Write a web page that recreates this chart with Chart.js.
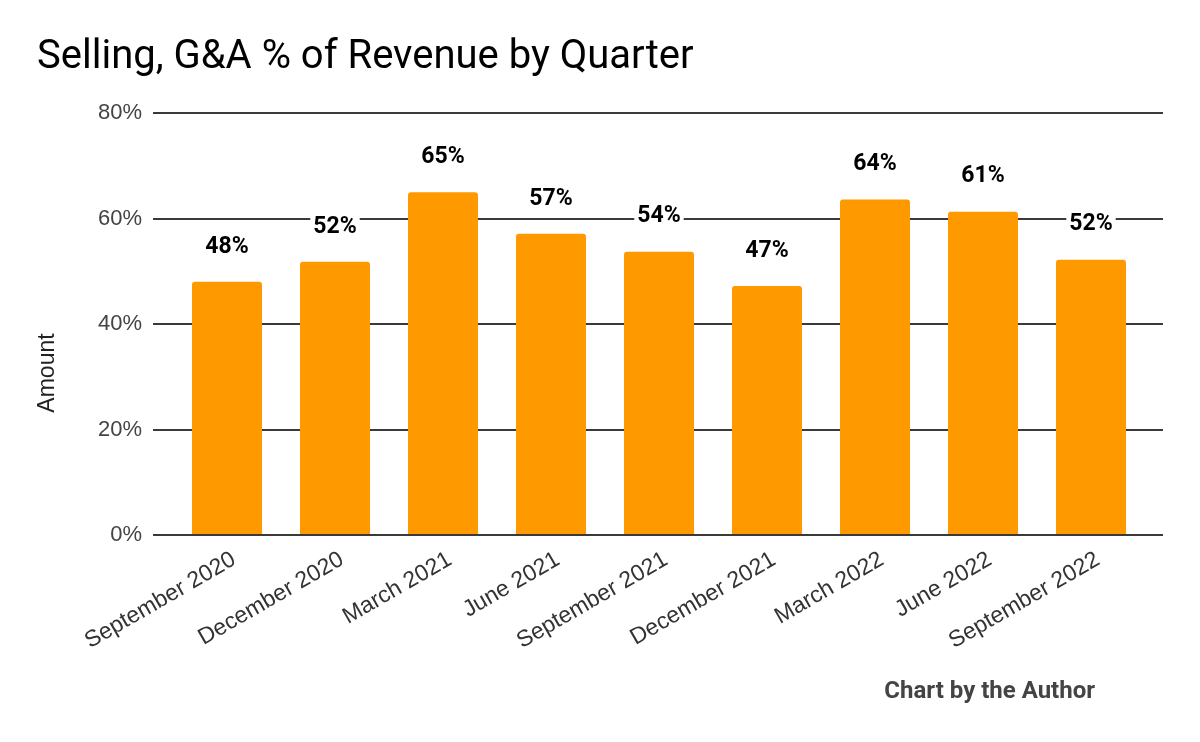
<!DOCTYPE html>
<html>
<head>
<meta charset="utf-8">
<style>
  html, body { margin: 0; padding: 0; background: #fff; }
  #wrap { width: 1200px; height: 742px; }
</style>
<script src="https://cdn.jsdelivr.net/npm/chart.js@4.4.0/dist/chart.umd.min.js"></script>
</head>
<body>
<div id="wrap"><canvas id="sga-chart" width="1200" height="742"></canvas></div>
<script>
// Selling, G&A as % of revenue, per quarter
const quarters = ['September 2020', 'December 2020', 'March 2021', 'June 2021', 'September 2021',
                  'December 2021', 'March 2022', 'June 2022', 'September 2022'];
const sgaPct = [48, 51.8, 65, 57.1, 53.7, 47.2, 63.6, 61.3, 52.2];
const yTicks = [0, 20, 40, 60, 80];

const barColor = '#ff9900';
const gridColor = '#3a3a3a';

// value labels above each bar, white box behind so the gridline is cut
const valueLabels = {
    id: 'valueLabels',
    afterDatasetsDraw(chart) {
        const ctx = chart.ctx;
        const meta = chart.getDatasetMeta(0);
        ctx.save();
        ctx.font = 'bold 23px Roboto';
        ctx.textAlign = 'center';
        ctx.textBaseline = 'middle';
        meta.data.forEach((bar, i) => {
            const txt = Math.round(sgaPct[i]) + '%';
            const y = bar.y - 36;
            const w = ctx.measureText(txt).width;
            ctx.fillStyle = '#fff';
            ctx.fillRect(bar.x - w / 2 - 3, y - 12, w + 6, 24);
            ctx.fillStyle = '#000';
            ctx.fillText(txt, bar.x, y + 1);
        });
        ctx.restore();
    }
};

// y axis caption and source note
const extraText = {
    id: 'extraText',
    afterDraw(chart) {
        const ctx = chart.ctx;
        ctx.save();
        ctx.font = '23px "Liberation Sans"';
        ctx.fillStyle = '#222';
        ctx.textAlign = 'center';
        ctx.textBaseline = 'middle';
        ctx.translate(48, 373);
        ctx.rotate(-Math.PI / 2);
        ctx.fillText('Amount', 0, 0);
        ctx.restore();

        ctx.save();
        ctx.font = 'bold 24px Roboto';
        ctx.fillStyle = '#444';
        ctx.textAlign = 'right';
        ctx.textBaseline = 'middle';
        ctx.fillText('Chart by the Author', 1095, 692);
        ctx.restore();
    }
};

const ctx = document.getElementById('sga-chart').getContext('2d');
new Chart(ctx, {
    type: 'bar',
    data: {
        labels: quarters,
        datasets: [{
            label: 'Amount',
            data: sgaPct,
            backgroundColor: barColor,
            borderRadius: { topLeft: 3, topRight: 3 },
            borderSkipped: 'bottom',
            barPercentage: 0.648,
            categoryPercentage: 1
        }]
    },
    options: {
        responsive: false,
        animation: false,
        layout: { padding: { left: 37, right: 37, top: 0, bottom: 0 } },
        plugins: {
            legend: { display: false },
            tooltip: { enabled: false },
            title: {
                display: true,
                text: 'Selling, G&A % of Revenue by Quarter',
                align: 'start',
                color: '#000',
                font: { family: 'Roboto', size: 40, weight: 'normal' },
                padding: { top: 34, bottom: 31 }
            }
        },
        scales: {
            x: {
                grid: { display: false },
                border: { display: false },
                ticks: {
                    color: '#333',
                    font: { family: 'Liberation Sans', size: 23 },
                    minRotation: 30,
                    maxRotation: 30,
                    labelOffset: 7,
                    padding: 3
                },
                afterFit(scale) { scale.height = 207; }
            },
            y: {
                min: 0,
                max: 80,
                afterBuildTicks(scale) { scale.ticks = yTicks.map(v => ({ value: v })); },
                grid: { color: gridColor, lineWidth: 2, drawTicks: true, tickLength: 20 },
                border: { display: false },
                ticks: {
                    color: '#444',
                    font: { family: 'Liberation Sans', size: 22 },
                    padding: 11,
                    callback: v => v + '%'
                },
                afterFit(scale) { scale.width = 136; }
            },
            y2: {
                position: 'right',
                min: 0,
                max: 80,
                afterBuildTicks(scale) { scale.ticks = yTicks.map(v => ({ value: v })); },
                grid: { color: gridColor, lineWidth: 2, drawOnChartArea: false, drawTicks: true, tickLength: 18 },
                border: { display: false },
                ticks: { display: false },
                afterFit(scale) { scale.width = 18; }
            }
        }
    },
    plugins: [valueLabels, extraText]
});
</script>
</body>
</html>
